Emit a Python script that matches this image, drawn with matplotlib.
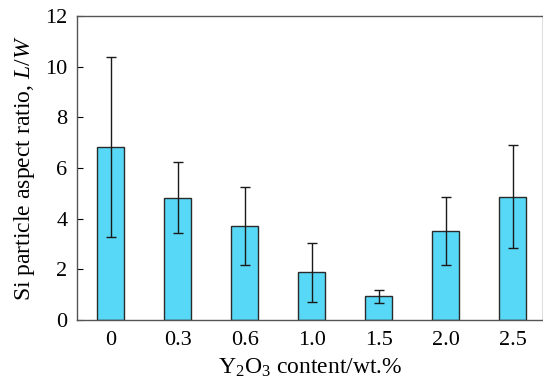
import matplotlib
matplotlib.use('Agg')
import matplotlib.pyplot as plt

# Y2O3 content categories and measured aspect ratios
contents = ['0', '0.3', '0.6', '1.0', '1.5', '2.0', '2.5']
ratio = [6.84, 4.82, 3.73, 1.88, 0.93, 3.52, 4.87]
err = [3.55, 1.40, 1.54, 1.15, 0.27, 1.34, 2.02]

plt.rcParams['font.family'] = 'Liberation Serif'
plt.rcParams['mathtext.fontset'] = 'custom'
plt.rcParams['mathtext.rm'] = 'Liberation Serif'
plt.rcParams['mathtext.it'] = 'Liberation Serif:italic'

fig = plt.figure(figsize=(5.43, 3.85), dpi=100)
ax = fig.add_axes([0.1418, 0.1688, 0.8582, 0.7896])

x = range(len(contents))
ax.bar(x, ratio, width=0.4, color='#57d8f6', edgecolor='#2a2a2a', linewidth=1.0,
       yerr=err, error_kw=dict(ecolor='#1a1a1a', elinewidth=1.0, capsize=3.5, capthick=1.0))

ax.set_xlim(-0.5, 6.45)
ax.set_ylim(0, 12)
ax.set_yticks(range(0, 13, 2))
ax.set_xticks(list(x))
ax.set_xticklabels(contents)
ax.tick_params(axis='y', direction='in', length=4, width=0.8, labelsize=16, pad=7)
ax.tick_params(axis='x', length=0, labelsize=16, pad=8)
for s in ax.spines.values():
    s.set_color('#555555')
    s.set_linewidth(1.0)

ax.set_xlabel(r'Y$_2$O$_3$ content/wt.%', fontsize=17, labelpad=5)
ax.set_ylabel(r'Si particle aspect ratio, $\mathit{L/W}$', fontsize=17, labelpad=6)

fig.savefig('out.png', dpi=100)
